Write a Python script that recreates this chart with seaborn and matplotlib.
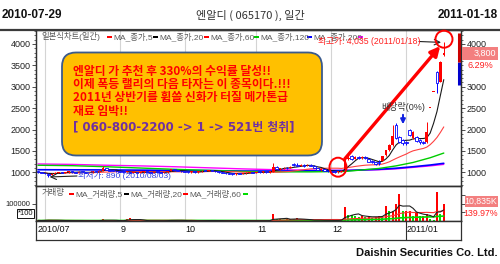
import numpy as np
import pandas as pd
import matplotlib
matplotlib.use("Agg")
import matplotlib.pyplot as plt
import seaborn as sns
from matplotlib.patches import FancyBboxPatch, Ellipse, Rectangle, FancyArrowPatch
from matplotlib.transforms import IdentityTransform
from matplotlib.ticker import MultipleLocator, NullFormatter
from matplotlib import font_manager as fm

# ------------------------------------------------------------------ data
open_ = [1020, 1000, 985, 970, 940, 965, 990, 1005, 990, 1000,
         1020, 1000, 995, 1010, 1000, 990, 1000, 1020, 1010, 1040,
         1100, 1060, 1040, 1030, 1020, 1010, 1000, 1005, 995, 1000,
         990, 1000, 1010, 1000, 995, 1005, 1000, 990, 1000, 1030,
         1070, 1045, 1030, 1020, 1010, 1000, 1010, 1000, 1020, 1040,
         1030, 1050, 1035, 1020, 1000, 990, 975, 965, 955, 970,
         960, 975, 990, 1000, 995, 1005, 1000, 1010, 1000, 1010,
         1120, 1070, 1090, 1110, 1100, 1200, 1180, 1150, 1170, 1160,
         1180, 1150, 1100, 1060, 1070, 1040, 1020, 1010, 1000, 1010,
         1070, 1310, 1370, 1320, 1350, 1330, 1360, 1300, 1260, 1240,
         1250, 1270, 1400, 1520, 1640, 2100, 1820, 1760, 1720, 1990,
         1800, 1820, 1760, 1720, 1700, 2500, 2880, 3350, 3120, 3740]
close_ = [1000, 985, 975, 935, 965, 990, 1005, 990, 1000, 1020,
          1000, 995, 1010, 1000, 990, 1000, 1020, 1010, 1040, 1110,
          1060, 1040, 1030, 1020, 1010, 1000, 1005, 995, 1000, 990,
          1000, 1010, 1000, 995, 1005, 1000, 990, 1000, 1030, 1070,
          1045, 1030, 1020, 1010, 1000, 1010, 1000, 1020, 1040, 1030,
          1050, 1035, 1020, 1000, 990, 975, 965, 955, 970, 960,
          975, 990, 1000, 995, 1005, 1000, 1010, 1000, 1020, 1130,
          1080, 1100, 1110, 1090, 1120, 1160, 1150, 1170, 1150, 1180,
          1150, 1100, 1060, 1080, 1040, 1020, 1010, 1000, 1010, 1030,
          1290, 1340, 1320, 1360, 1330, 1360, 1330, 1250, 1230, 1200,
          1220, 1380, 1520, 1640, 1850, 1800, 1720, 1690, 1680, 1870,
          1950, 1740, 1700, 1690, 1950, 2500, 2880, 3080, 3575, 3800]
high_ = [1030, 1010, 995, 975, 975, 1000, 1015, 1010, 1010, 1030,
         1025, 1010, 1020, 1015, 1005, 1010, 1030, 1030, 1050, 1150,
         1110, 1070, 1050, 1040, 1030, 1020, 1015, 1010, 1010, 1005,
         1010, 1020, 1015, 1005, 1015, 1010, 1005, 1010, 1040, 1080,
         1075, 1050, 1035, 1030, 1015, 1020, 1015, 1030, 1050, 1050,
         1060, 1055, 1040, 1025, 1005, 995, 980, 975, 980, 975,
         985, 1000, 1010, 1010, 1015, 1010, 1020, 1015, 1030, 1225,
         1140, 1110, 1130, 1120, 1140, 1220, 1210, 1190, 1200, 1190,
         1185, 1160, 1110, 1090, 1080, 1050, 1030, 1020, 1030, 1050,
         1300, 1440, 1410, 1380, 1370, 1380, 1370, 1310, 1290, 1250,
         1280, 1390, 1530, 1660, 2100, 2160, 1850, 1790, 1740, 2020,
         1970, 1840, 1780, 1740, 2180, 2500, 2880, 3380, 3600, 4035]
low_ = [990, 975, 960, 890, 930, 960, 980, 985, 985, 995,
        990, 985, 990, 995, 980, 985, 995, 1000, 1005, 1035,
        1050, 1030, 1020, 1010, 1000, 995, 990, 990, 985, 980,
        985, 995, 995, 985, 990, 995, 980, 985, 995, 1025,
        1040, 1020, 1010, 1000, 990, 995, 990, 995, 1015, 1020,
        1020, 1025, 1010, 990, 980, 960, 950, 940, 945, 950,
        955, 970, 985, 990, 990, 995, 995, 995, 995, 1005,
        1070, 1060, 1080, 1080, 1090, 1150, 1140, 1140, 1130, 1150,
        1140, 1090, 1050, 1040, 1030, 1000, 995, 990, 985, 1000,
        1060, 1290, 1290, 1300, 1310, 1310, 1300, 1230, 1210, 1170,
        1170, 1260, 1390, 1500, 1620, 1780, 1680, 1640, 1640, 1850,
        1790, 1700, 1670, 1660, 1680, 2500, 2880, 2860, 3100, 3720]
volume = [3000, 2500, 4000, 6000, 3500, 3000, 2500, 2000, 2500, 3000,
          2000, 1800, 2200, 2000, 1500, 1800, 2500, 2000, 3000, 9000,
          4000, 2500, 2000, 1800, 1500, 1500, 14000, 18000, 6000, 2000,
          1500, 1800, 2000, 1500, 1800, 1600, 1500, 1800, 4000, 7000,
          3000, 2500, 2000, 1800, 1500, 1800, 1600, 2000, 3000, 2500,
          3500, 2500, 2000, 1800, 2000, 2200, 2000, 1800, 1600, 1800,
          2000, 1800, 1600, 1500, 1800, 2000, 1800, 2200, 3000, 39000,
          9000, 12000, 8000, 10000, 14000, 12000, 17000, 6000, 5000, 7000,
          5000, 4000, 5000, 4000, 3000, 4000, 3500, 3000, 4000, 10000,
          80000, 37000, 36000, 30000, 25000, 32000, 22000, 24000, 20000, 26000,
          32000, 31000, 89000, 57000, 61000, 98000, 160000, 61000, 61000, 61000,
          30000, 50000, 28000, 32000, 44000, 9000, 8000, 168000, 39000, 100000]

month_ticks = [2, 24, 43, 64, 86, 108]
month_labels = ['2010/07', '9', '10', '11', '12', '2011/01']

ma_knot_idx = [0, 10, 20, 30, 40, 50, 60, 70, 80, 90, 100, 105, 110, 115, 119]
ma_green = [1165, 1155, 1130, 1100, 1070, 1045, 1020, 1010, 1010, 1020, 1090, 1150, 1230, 1340, 1450]
ma_blue = [1060, 1058, 1055, 1050, 1045, 1040, 1030, 1030, 1035, 1040, 1070, 1095, 1130, 1170, 1210]
ma_magenta = [1195, 1185, 1165, 1150, 1130, 1105, 1080, 1060, 1050, 1045, 1060, 1080, 1115, 1150, 1185]

limit_bar = [3040, 3575, 4250]   # lower limit, previous close, upper mark

title_left = '2010-07-29'
title_mid = '엔알디 ( 065170 ), 일간'
title_right = '2011-01-18'
price_legend = [('MA_종가,5', '#FF0000'), ('MA_종가,20', '#000000'), ('MA_종가,60', '#FF0000'),
                ('MA_종가,120', '#00CC00'), ('MA_종가,200', '#0000FF'), ('', '#FF00FF')]
vol_legend = [('MA_거래량,5', '#FF0000'), ('MA_거래량,20', '#000000'),
              ('MA_거래량,60', '#FF0000'), ('', '#00DD00')]
promo_lines = ['엔알디 가 추천 후 330%의 수익률 달성!!',
               '이제 폭등 랠리의 다음 타자는 이 종목이다.!!!',
               '2011년 상반기를 휩쓸 신화가 터질 메가톤급',
               '재료 임박!!']
promo_phone = '[ 060-800-2200 -> 1 -> 521번 청취]'
high_text = '최고가: 4,035 (2011/01/18)'
low_text = '최저가: 890 (2010/08/03)'
exdiv_text = '배당락(0%)'
last_price, last_chg = '3,800', '6.29%'
last_vol, vol_chg = '10,835K', '139.97%'

# ------------------------------------------------------------------ style
sns.set_style('white')
names = {f.name for f in fm.fontManager.ttflist}
NARROW = 'Liberation Sans Narrow' if 'Liberation Sans Narrow' in names else 'Liberation Sans'
KR = 'Noto Sans CJK KR'
plt.rcParams['font.family'] = [NARROW, KR, 'DejaVu Sans']
plt.rcParams['axes.unicode_minus'] = False

W, H = 500, 264
fig = plt.figure(figsize=(5.0, 2.64), dpi=100)
fig.patch.set_facecolor('white')


def fx(px):
    return px / W


def fy(py):
    return 1 - py / H


PIX = IdentityTransform()


def P(x, y):  # figure pixel (top-left origin) -> display coords
    return (x, H - y)


L, R = 36, 461
TOP, PB, VB, DB = 29.7, 186.3, 221.0, 240.0
ax_p = fig.add_axes([fx(L), fy(PB), (R - L) / W, (PB - TOP) / H])
ax_v = fig.add_axes([fx(L), fy(VB), (R - L) / W, (VB - PB) / H])
ax_d = fig.add_axes([fx(L), fy(DB), (R - L) / W, (DB - VB) / H])

XLIM = (-0.59, 124.05)
SPINE = '#303030'
for ax in (ax_p, ax_v, ax_d):
    ax.set_xlim(*XLIM)
    ax.set_facecolor('white')
    for s in ax.spines.values():
        s.set_visible(True)
        s.set_color(SPINE)
        s.set_linewidth(0.9)
    ax.set_xticks([])

# ------------------------------------------------------------------ price panel
idx = np.arange(len(close_))
o = np.array(open_, float)
c = np.array(close_, float)
h = np.array(high_, float)
l = np.array(low_, float)
up = c >= o

for g in month_ticks:
    ax_p.axvline(g, color='#D4D4D4', lw=0.8, zorder=0)
    ax_v.axvline(g, color='#D4D4D4', lw=0.8, zorder=0)

cs = pd.Series(c)
sns.lineplot(x=ma_knot_idx, y=ma_magenta, ax=ax_p, color='#FF00FF', linewidth=1.0, zorder=2)
sns.lineplot(x=ma_knot_idx, y=ma_blue, ax=ax_p, color='#0000FF', linewidth=1.2, zorder=2)
sns.lineplot(x=ma_knot_idx, y=ma_green, ax=ax_p, color='#00CC00', linewidth=1.0, zorder=2)
sns.lineplot(x=idx, y=cs.rolling(20, min_periods=1).mean().values, ax=ax_p,
             color='#FF4040', linewidth=0.8, zorder=2)
sns.lineplot(x=idx, y=cs.rolling(5, min_periods=1).mean().values, ax=ax_p,
             color='#1A1A1A', linewidth=0.8, zorder=2)

col = np.where(up, '#FF0000', '#0000FF')
ax_p.vlines(idx, l, h, colors=col, lw=0.7, zorder=3)
body_lo = np.minimum(o, c)
body_h = np.maximum(np.abs(c - o), 20)
ax_p.bar(idx[up], body_h[up], bottom=body_lo[up], width=0.75, color='#FF0000', lw=0, zorder=4)
ax_p.bar(idx[~up], body_h[~up], bottom=body_lo[~up], width=0.8, facecolor='white',
         edgecolor='#0000FF', lw=0.6, zorder=4)

# daily limit bar beside the right axis
ax_p.vlines([123.6], limit_bar[0], limit_bar[1], colors='#0000CC', lw=2.2, zorder=5, clip_on=False)
ax_p.vlines([123.6], limit_bar[1], limit_bar[2], colors='#CC0000', lw=2.2, zorder=5, clip_on=False)

ax_p.set_ylim(672.7, 4334)
ax_p.set_yticks(np.arange(1000, 4001, 500))
ax_p.yaxis.set_minor_locator(MultipleLocator(100))
ax_p.tick_params(axis='y', which='major', left=True, length=3, width=0.6, color=SPINE,
                 labelsize=6.5, pad=1, labelcolor='#222222')
ax_p.tick_params(axis='y', which='minor', left=True, length=1.6, width=0.5, color=SPINE)
ax_p.set_xlabel('')
ax_p.set_ylabel('')

ax_r = ax_p.twinx()
ax_r.set_ylim(ax_p.get_ylim())
ax_r.set_yticks([1000, 1500, 2000, 2500, 3000, 4000])
ax_r.yaxis.set_minor_locator(MultipleLocator(100))
ax_r.tick_params(axis='y', which='major', right=True, length=3, width=0.6, color=SPINE,
                 labelsize=6.5, pad=1, labelcolor='#222222')
ax_r.tick_params(axis='y', which='minor', right=True, length=1.4, width=0.5, color=SPINE)
ax_r.set_xlim(*XLIM)
for s in ax_r.spines.values():
    s.set_color(SPINE)
    s.set_linewidth(0.9)

# ------------------------------------------------------------------ volume panel
v = np.array(volume, float)
vs = pd.Series(v)
vol_up = v >= vs.shift(1).fillna(0).values
ax_v.bar(idx, v, width=0.6, color=np.where(vol_up, '#FF0000', '#00E000'), lw=0, zorder=3)
sns.lineplot(x=idx, y=vs.rolling(60, min_periods=1).mean().values, ax=ax_v,
             color='#00DD00', linewidth=1.2, zorder=4)
sns.lineplot(x=idx, y=vs.rolling(20, min_periods=1).mean().values, ax=ax_v,
             color='#FF3030', linewidth=0.8, zorder=4)
sns.lineplot(x=idx, y=vs.rolling(5, min_periods=1).mean().values, ax=ax_v,
             color='#202020', linewidth=0.8, zorder=4)
ax_v.set_ylim(0, 204000)
ax_v.set_yticks([100000])
ax_v.set_yticklabels(['100000'])
ax_v.tick_params(axis='y', left=True, length=3, width=0.6, color=SPINE, labelsize=5.5, pad=1,
                 labelcolor='#222222')
ax_v.set_xlabel('')
ax_v.set_ylabel('')
ax_vr = ax_v.twinx()
ax_vr.set_ylim(0, 204000)
ax_vr.set_yticks([50000, 100000, 150000])
ax_vr.yaxis.set_major_formatter(NullFormatter())
ax_vr.tick_params(axis='y', right=True, length=3, width=0.6, color=SPINE)
for s in ax_vr.spines.values():
    s.set_color(SPINE)
    s.set_linewidth(0.9)

# ------------------------------------------------------------------ date strip
ax_d.set_ylim(0, 1)
ax_d.set_yticks([])
for i, (t, lab) in enumerate(zip(month_ticks, month_labels)):
    xpos = XLIM[0] + 0.4 if i == 0 else t + 0.2
    ax_d.text(xpos, 0.55, lab, ha='left', va='center', fontsize=6.5, color='#111111')
ax_d.axvline(month_ticks[-1], color=SPINE, lw=0.8)

# ------------------------------------------------------------------ header
fig.add_artist(plt.Line2D([0, 1], [fy(29.7), fy(29.7)], transform=fig.transFigure,
                          color='#3A3A3A', lw=1.6))
fig.text(fx(2), fy(15), title_left, ha='left', va='center', fontsize=8.5, weight='bold',
         color='#111111')
fig.text(fx(498), fy(15), title_right, ha='right', va='center', fontsize=8.5, weight='bold',
         color='#111111')
fig.text(fx(250), fy(15), title_mid, ha='center', va='center', fontsize=8, color='#333333',
         family=[KR])

# legends
LG = '#5A5A5A'
fig.text(fx(41), fy(36.5), '일본식차트(일간)', ha='left', va='center', fontsize=6, color=LG,
         family=[NARROW, KR])
xs = [107, 153, 204, 254, 307, 358]
for (lab, cc), x0 in zip(price_legend, xs):
    fig.add_artist(Rectangle(P(x0, 38.2), 4.5, 2.6, transform=PIX, color=cc, lw=0))
    if lab:
        fig.text(fx(x0 + 6), fy(36.5), lab, ha='left', va='center', fontsize=6, color=LG,
                 family=[NARROW, KR])
fig.text(fx(42), fy(193.5), '거래량', ha='left', va='center', fontsize=6, color=LG,
         family=[NARROW, KR])
xs = [69, 124, 183, 243]
for (lab, cc), x0 in zip(vol_legend, xs):
    fig.add_artist(Rectangle(P(x0, 195.2), 4.5, 2.6, transform=PIX, color=cc, lw=0))
    if lab:
        fig.text(fx(x0 + 6), fy(193.5), lab, ha='left', va='center', fontsize=6, color=LG,
                 family=[NARROW, KR])

# *100 box
fig.text(fx(25.5), fy(213.5), '*100', ha='center', va='center', fontsize=5.5, color='#111111',
         bbox=dict(boxstyle='square,pad=0.15', fc='white', ec='#111111', lw=0.7))

# high / low annotations
fig.text(fx(318), fy(41.5), high_text, ha='left', va='center', fontsize=6.3, color='#FF2020',
         family=[NARROW, KR], zorder=10)
ax_p.annotate('', xy=(idx[-1], h[-1]), xytext=(fx(419), fy(41.5)), textcoords='figure fraction',
              arrowprops=dict(arrowstyle='->', color='#222222', lw=0.8, shrinkA=0, shrinkB=2))
lo_i = int(np.argmin(l))
fig.text(fx(78), fy(176), low_text, ha='left', va='center', fontsize=6.1, color='#3040E0',
         family=[NARROW, KR], zorder=10)
ax_p.annotate('', xy=(lo_i, l[lo_i]), xytext=(fx(77), fy(176)), textcoords='figure fraction',
              arrowprops=dict(arrowstyle='->', color='#222222', lw=0.8, shrinkA=0, shrinkB=1))

fig.text(fx(381), fy(107), exdiv_text, ha='left', va='center', fontsize=6.5, color='#333333',
         family=[NARROW, KR], zorder=10)
fig.add_artist(FancyArrowPatch(P(403, 112), P(403, 127), transform=PIX, arrowstyle='-|>',
                               mutation_scale=7, lw=1.4, color='#1020E0'))

# promo box
fig.add_artist(FancyBboxPatch(P(62, 155.5), 260, 103, transform=PIX,
                              boxstyle='round,pad=0,rounding_size=14',
                              fc='#FFC000', ec='#3A5A8C', lw=1.3, zorder=8))
ys = [71, 84.5, 98, 111.7]
for t, yy in zip(promo_lines, ys):
    fig.text(fx(73), fy(yy), t, ha='left', va='center', fontsize=8.5, weight='bold',
             color='#FF0000', family=[KR], zorder=9)
fig.text(fx(73), fy(126.7), promo_phone, ha='left', va='center', fontsize=8.5, weight='bold',
         color='#7030A0', family=['DejaVu Sans', KR], zorder=9)

# red circles and arrow
fig.add_artist(Ellipse(P(338, 167.2), 17, 19, transform=PIX, fill=False, ec='#FF0000', lw=1.4,
                       zorder=9))
fig.add_artist(Ellipse(P(444, 39.2), 17, 17, transform=PIX, fill=False, ec='#FF0000', lw=1.4,
                       zorder=9))
fig.add_artist(FancyArrowPatch(P(343, 161), P(442, 44), transform=PIX, arrowstyle='-|>',
                               mutation_scale=14, lw=2.4, color='#FF0000', zorder=9))

# right value boxes
fig.add_artist(Rectangle(P(462, 60), 36, 13, transform=PIX, color='#F37F7F', lw=0, zorder=9))
fig.text(fx(496), fy(53.5), last_price, ha='right', va='center', fontsize=6.5, color='white',
         zorder=10)
fig.text(fx(493), fy(65.5), last_chg, ha='right', va='center', fontsize=6.5, color='#FF2020',
         zorder=10)
fig.add_artist(Rectangle(P(465, 207), 33, 11, transform=PIX, color='#F37F7F', lw=0, zorder=9))
fig.text(fx(497), fy(201.5), last_vol, ha='right', va='center', fontsize=6.3, color='white',
         zorder=10)
fig.text(fx(498), fy(213), vol_chg, ha='right', va='center', fontsize=6.3, color='#FF2020',
         zorder=10)

fig.text(fx(498), fy(252.5), 'Daishin Securities Co. Ltd.', ha='right', va='center', fontsize=8,
         weight='bold', color='#111111')

fig.savefig('out.png', dpi=100, facecolor='white')
